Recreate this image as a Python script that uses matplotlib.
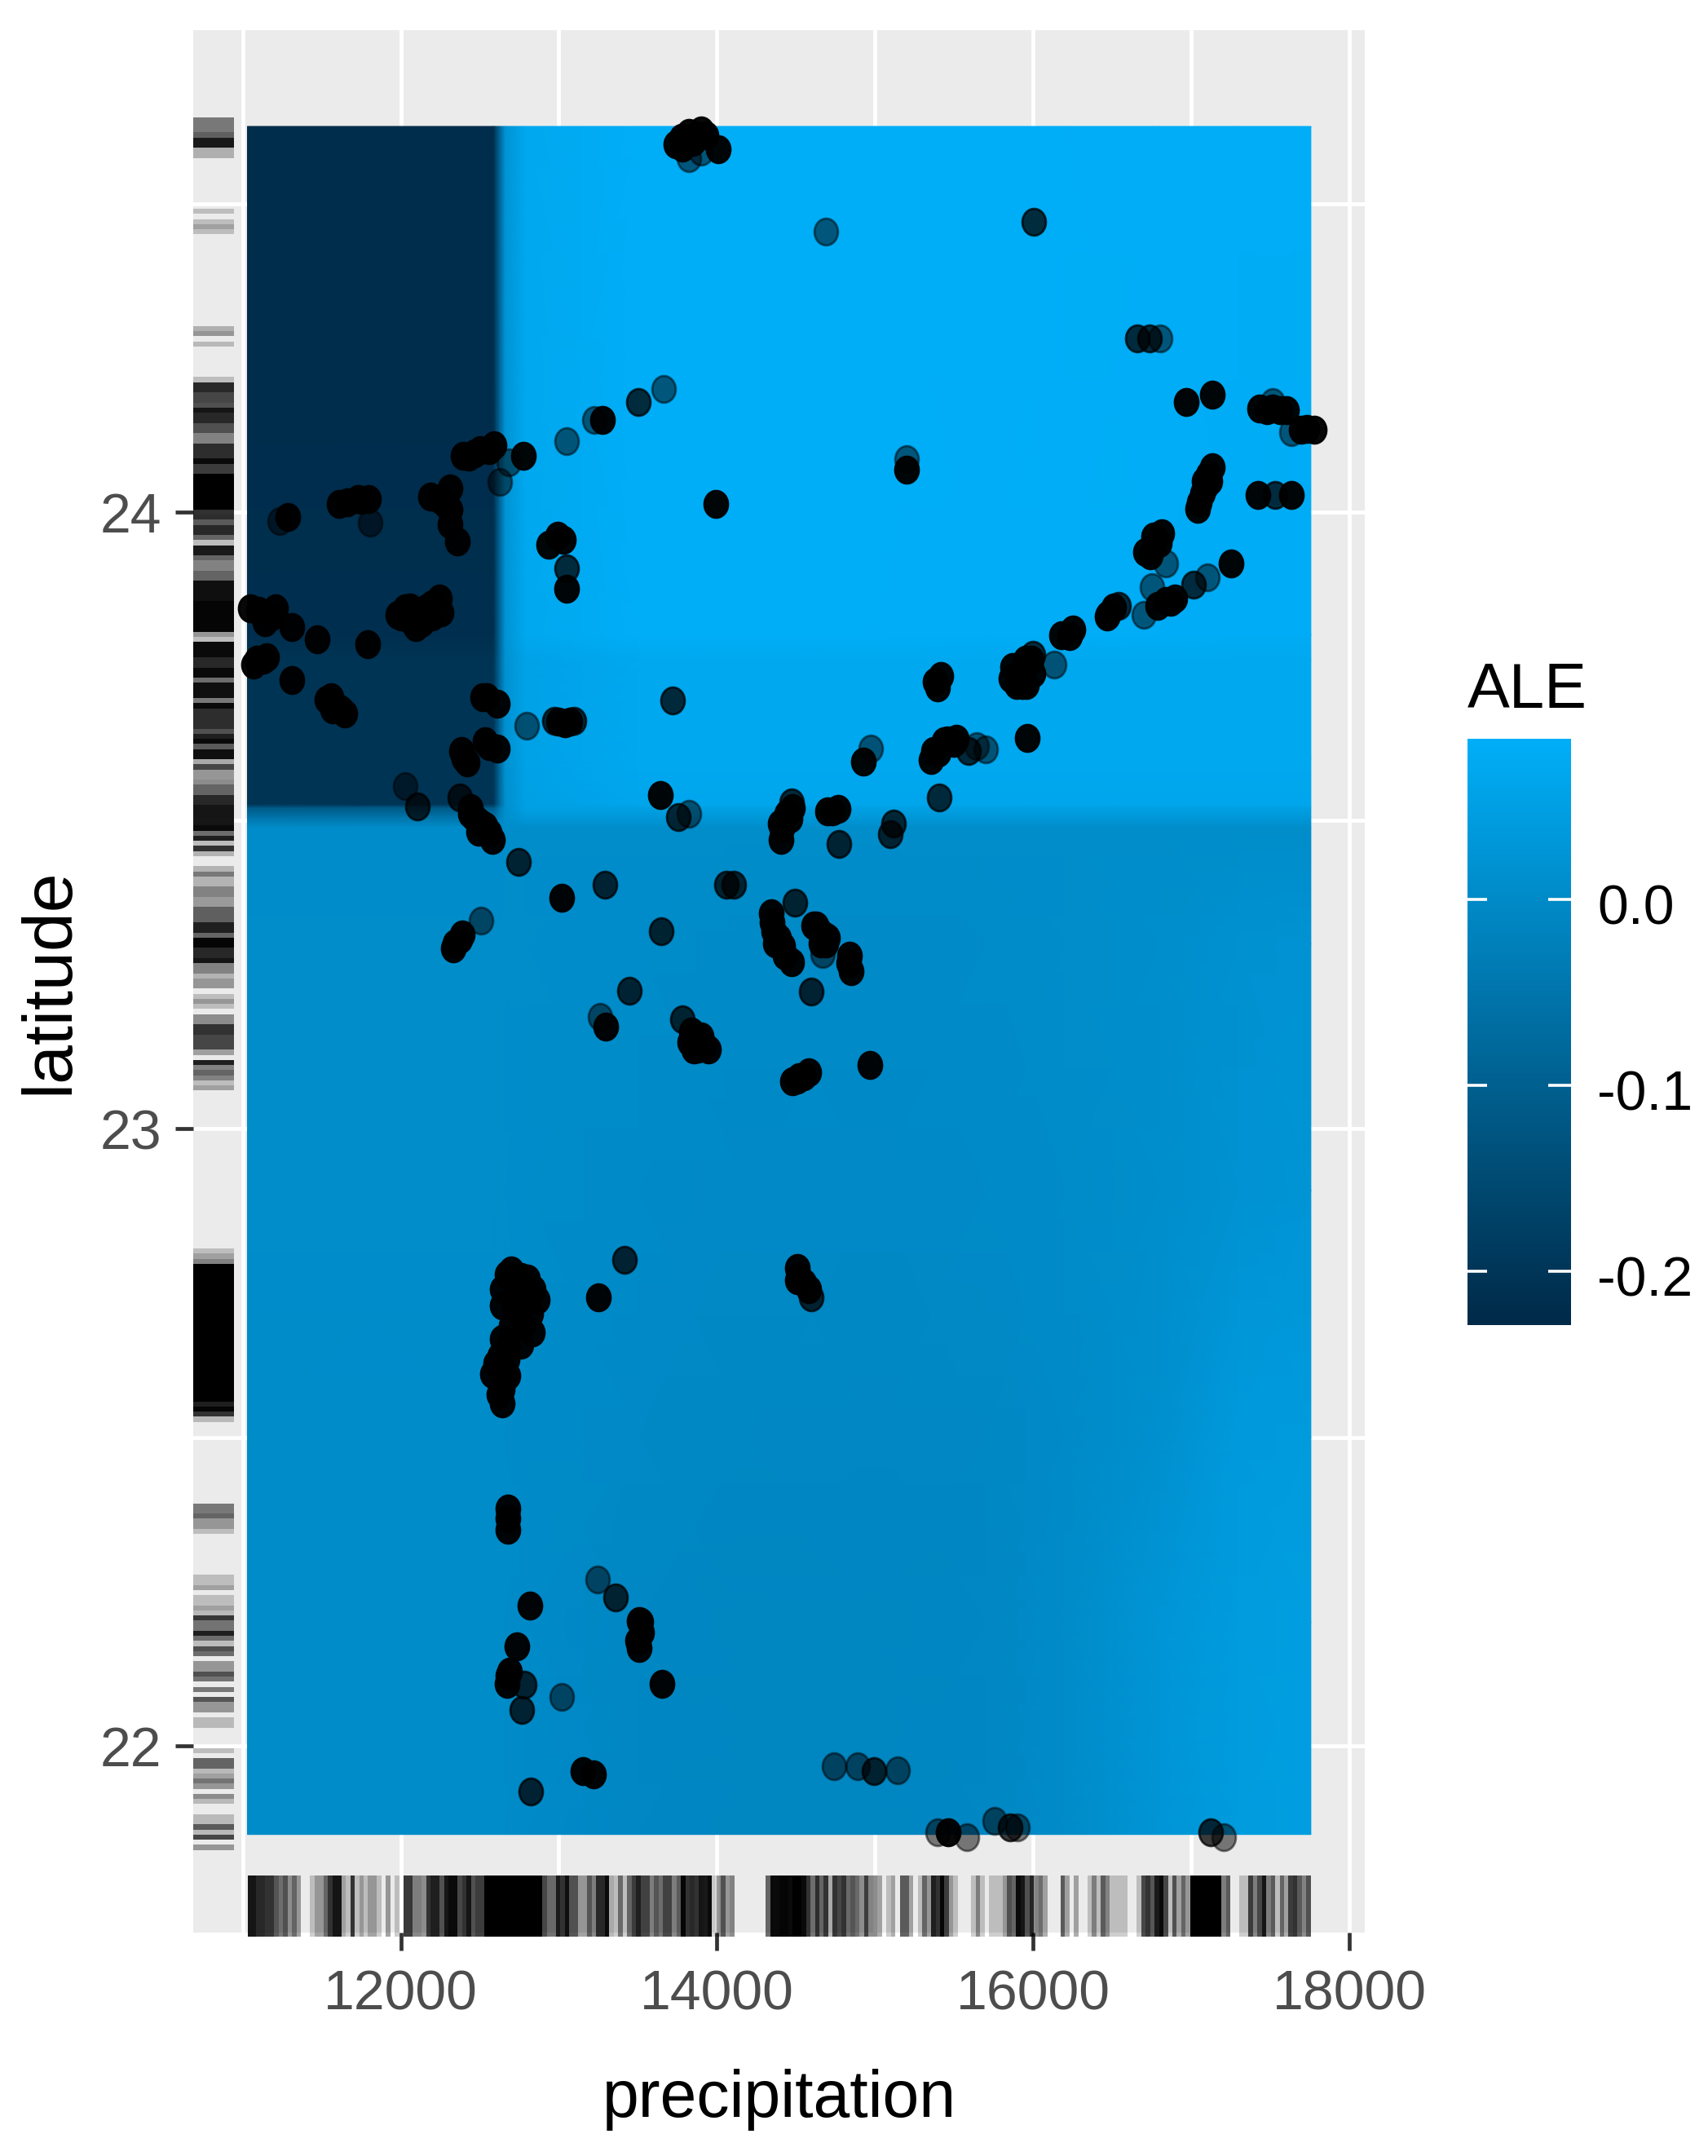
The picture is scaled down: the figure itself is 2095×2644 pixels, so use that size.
import numpy as np
import matplotlib
matplotlib.use("Agg")
import matplotlib.pyplot as plt
from matplotlib.colors import LinearSegmentedColormap
from matplotlib.path import Path
from matplotlib.transforms import Affine2D, ScaledTranslation

plt.rcParams['font.family'] = ['Liberation Sans', 'DejaVu Sans']

W, H = 2095, 2644

# ALE surface
x_grid = [11030, 12585, 12600, 12625, 12660, 12790, 13500, 14200, 15000, 15700, 16200, 16800, 17300, 17757]
lat_grid = [24.625, 23.80, 23.76, 23.60, 23.526, 23.520, 23.505, 23.488, 23.30, 22.90, 22.50, 22.20, 21.856]
ale = [
    [-.222, -.222, -.17, -.09, .02, .07, .084, .084, .084, .084, .084, .082, .082, .082],
    [-.218, -.218, -.17, -.09, .02, .07, .084, .084, .084, .082, .082, .082, .080, .080],
    [-.205, -.205, -.16, -.085, .015, .055, .070, .070, .070, .070, .070, .070, .070, .070],
    [-.205, -.205, -.16, -.085, .015, .055, .070, .070, .070, .070, .070, .070, .070, .070],
    [-.205, -.205, -.16, -.085, .010, .050, .065, .065, .065, .065, .065, .065, .065, .065],
    [-.115, -.115, -.09, -.04, .010, .050, .050, .050, .050, .050, .050, .050, .050, .050],
    [-.056, -.056, -.05, -.02, .010, .030, .030, .030, .030, .030, .030, .030, .030, .030],
    [.003, .003, .003, .003, .005, .005, .005, .005, .005, .005, .005, .005, .005, .005],
    [.005, .005, .005, .005, .005, .005, .003, .000, .000, .002, .005, .007, .015, .020],
    [.004, .004, .004, .004, .004, .003, .000, -.003, -.003, -.002, .002, .007, .018, .025],
    [.002, .002, .002, .002, .002, .001, -.003, -.007, -.008, -.007, .000, .012, .035, .040],
    [.002, .002, .002, .002, .002, .000, -.008, -.012, -.012, -.008, .002, .025, .040, .045],
    [.002, .002, .002, .002, .002, .000, -.008, -.012, -.012, -.008, .002, .025, .040, .045],
]

# observations, sorted by how dark they look after overplotting
precip_dense = [13776, 13822, 13902, 13741, 14006, 13868, 13276, 12774, 12590, 12464, 12395, 12314, 12187,
                12314, 12360, 11727, 11612, 11796, 11285, 11048, 11209, 11140, 11313, 11469, 11128, 11071,
                11313, 11791, 12026, 11980, 12095, 12245, 12256, 12164, 12095, 11531, 11589, 11646, 12544,
                12613, 13039, 12383, 12418, 12533, 12613, 12441, 12533, 13642, 12993, 12936, 13051, 13994,
                16966, 17132, 17434, 17513, 17605, 17697, 17776, 15198, 17132, 17092, 17053, 17421, 17632,
                16763, 16816, 16711, 16842, 16790, 16895, 17250, 16474, 16232, 15935, 15869, 16000, 15895,
                15414, 15395, 15961, 14927, 15369, 15435, 15514, 15356, 14461, 14409, 14764, 14698, 12582,
                12493, 13020, 12375, 12331, 13299, 13840, 13899, 13944, 13855, 14521, 14580, 14477, 14965,
                14343, 14358, 14417, 14625, 14684, 14832, 14847, 14403, 12671, 12804, 12641, 12863, 12775,
                12641, 12775, 12834, 12641, 12627, 12671, 12582, 12656, 12641, 12641, 13248, 14506, 14506,
                14580, 12679, 13508, 13522, 13508, 12817, 12734, 12679, 13655, 13153, 13218, 15465,
                12720, 12720, 12800, 12700, 12760, 12680, 12600, 12700, 12760, 12840, 12820, 12650, 12620,
                12680, 12660, 14350, 14370, 14390, 14430, 14470, 14650, 14660, 14700, 17110, 17070, 17040,
                17120, 17080, 12060, 12130, 12200, 12060, 12130, 12200, 12000, 15950, 15930, 15860, 15960,
                15990, 13870, 13900, 13830, 13920, 13880, 14510, 14550, 14520, 14550, 13800, 13850, 13780,
                13930, 16760, 16740, 16800, 13030, 12560, 12430, 12500, 12250, 12290, 12310, 11660, 11750,
                11570, 11620, 11560, 11100, 11180, 11090, 11150, 12520, 13000, 13070, 12400, 12560, 12480,
                12510, 12560, 12440, 12460, 15380, 15400, 15460, 15500, 14400, 14440, 14480, 14730, 16870,
                17480, 17560, 17730, 12680, 12680, 13520, 13500, 12690, 12670, 16180, 16250, 16470, 16510,
                12340, 12390, 14610, 14690, 14840]
lat_dense = [24.607, 24.615, 24.618, 24.596, 24.588, 24.610, 24.149, 24.091, 24.108, 24.095, 24.091, 24.038, 24.025,
             24.004, 23.952, 24.021, 24.013, 24.021, 23.992, 23.844, 23.844, 23.821, 23.814, 23.793, 23.761, 23.753,
             23.727, 23.785, 23.844, 23.833, 23.837, 23.859, 23.837, 23.844, 23.814, 23.696, 23.685, 23.673, 23.700,
             23.689, 23.658, 23.613, 23.594, 23.628, 23.616, 23.510, 23.491, 23.541, 23.962, 23.947, 23.875, 24.013,
             24.178, 24.190, 24.167, 24.167, 24.165, 24.133, 24.133, 24.068, 24.072, 24.042, 24.015, 24.028, 24.028,
             23.943, 23.966, 23.935, 23.856, 23.848, 23.859, 23.916, 23.833, 23.799, 23.746, 23.749, 23.738, 23.719,
             23.734, 23.715, 23.633, 23.595, 23.613, 23.628, 23.632, 23.598, 23.503, 23.487, 23.518, 23.514, 23.468,
             23.482, 23.375, 23.307, 23.293, 23.166, 23.158, 23.138, 23.128, 23.128, 23.084, 23.091, 23.077, 23.104,
             23.350, 23.320, 23.296, 23.330, 23.313, 23.269, 23.256, 23.468, 22.764, 22.757, 22.740, 22.723, 22.720,
             22.713, 22.680, 22.670, 22.660, 22.632, 22.626, 22.602, 22.599, 22.555, 22.578, 22.727, 22.774, 22.754,
             22.740, 22.368, 22.202, 22.184, 22.159, 22.227, 22.161, 22.113, 22.100, 21.959, 21.953, 21.860,
             22.750, 22.710, 22.720, 22.680, 22.650, 22.650, 22.620, 22.770, 22.760, 22.740, 22.700, 22.590, 22.570,
             22.600, 22.640, 23.335, 23.300, 23.310, 23.280, 23.270, 23.320, 23.300, 23.310, 24.060, 24.030, 24.005,
             24.050, 24.050, 23.845, 23.840, 23.850, 23.825, 23.820, 23.830, 23.830, 23.760, 23.720, 23.730, 23.720,
             23.760, 23.150, 23.150, 23.140, 23.135, 23.130, 23.080, 23.085, 22.760, 22.750, 24.600, 24.600, 24.590,
             24.610, 23.960, 23.930, 23.950, 23.955, 24.100, 24.090, 24.100, 24.020, 24.010, 23.980, 24.015, 24.020,
             23.680, 23.680, 23.700, 23.840, 23.830, 23.760, 23.765, 23.700, 23.660, 23.660, 23.600, 23.620, 23.500,
             23.495, 23.480, 23.520, 23.505, 23.725, 23.610, 23.630, 23.625, 23.495, 23.510, 23.520, 23.515, 23.855,
             24.165, 24.165, 24.135, 22.350, 22.385, 22.200, 22.170, 22.120, 22.100, 23.800, 23.810, 23.830, 23.845,
             23.300, 23.315, 23.330, 23.300, 23.280]

precip_mid = [13504, 12970, 13097, 13718, 12107, 12372, 13753, 13051, 16006, 16658, 16737, 17013, 16540,
              16000, 14474, 15119, 15593, 15408, 12745, 13293, 14062, 14107, 13648, 13447, 13781, 14595,
              14491, 14773, 15098, 13417, 14595, 13356, 12780, 12766, 12822, 14995, 15856, 17123, 17530]
lat_mid = [24.178, 23.662, 23.662, 23.694, 23.522, 23.537, 23.506, 23.909, 24.470, 24.281, 24.281, 23.882, 23.848,
           23.768, 23.529, 23.495, 23.613, 23.537, 23.433, 23.396, 23.396, 23.396, 23.320, 23.224, 23.178, 23.222,
           23.367, 23.462, 23.478, 22.788, 22.727, 22.240, 22.099, 22.058, 21.926, 21.959, 21.868, 21.860, 24.028]

precip_light = [13822, 13902, 13661, 13223, 13051, 12682, 12625, 11808, 11232, 12797, 13822, 12026, 14690,
                16803, 17513, 17632, 15198, 16842, 16750, 16698, 17105, 16132, 14974, 15645, 15700,
                12508, 13263, 14669, 13245, 13020, 14742, 14889, 15143, 15396, 15580, 15755, 15902, 17206]
lat_light = [24.573, 24.584, 24.199, 24.149, 24.115, 24.081, 24.049, 23.982, 23.985, 23.653, 23.510, 23.556, 24.454,
             24.281, 24.178, 24.129, 24.086, 23.916, 23.878, 23.833, 23.894, 23.753, 23.617, 23.620, 23.615,
             23.337, 23.182, 23.283, 22.269, 22.079, 21.967, 21.967, 21.960, 21.860, 21.852, 21.878, 21.868, 21.852]

# rug darkness per strip of the margin, 255 means nothing drawn there
rug_x_gray = ([20]*2 + [40]*2 + [50]*2 + [85, 110, 80, 140, 100, 150] + [255]*2 + [190, 150, 150, 100, 50, 20, 20, 160,
              190, 50, 190, 150, 190, 150, 150, 190, 255, 150, 255, 190, 255, 55, 55, 125, 125, 140, 50, 30, 30, 80,
              20, 10, 10, 70, 50, 20, 80, 60, 60] + [0]*13 + [70, 105, 105, 25, 50, 15, 80, 80, 150, 150, 85, 125, 40,
              40, 10, 170, 190, 105, 190, 100, 60, 30, 65, 65, 125, 85, 110, 65, 65, 125, 90, 5, 50, 40, 50, 20, 25,
              10, 200, 140, 80, 150, 130] + [255]*7 + [100, 10, 10, 5, 5, 10, 0, 0, 10, 50, 110, 45, 100, 50, 170, 50,
              70, 50, 105, 85, 105, 140, 60, 130, 130, 160, 255, 190, 160, 255, 90, 90, 160, 255, 190, 100, 150, 30,
              50, 5, 60, 150, 190] + [255]*3 + [190, 125, 190, 255] + [190]*3 + [150, 80, 100, 10, 20, 80, 35, 130, 110,
              160] + [255]*3 + [90, 160, 255, 160] + [255]*2 + [190, 125, 190, 90, 130] + [190]*4 + [255]*2 + [190, 70,
              50, 85, 25, 10, 70, 190, 80, 160, 100, 150] + [0]*7 + [125, 90] + [255]*2 + [190, 190, 60, 125, 70, 20,
              125, 90, 190, 100, 160, 60, 50, 90, 130, 80])

rug_lat_gray = ([120]*3 + [95, 25, 25, 175, 175] + [255]*10 + [190, 255, 190, 160, 190] + [255]*18 + [175, 150, 255, 185]
                + [255]*6 + [190, 40, 40, 70, 70, 80, 20, 40, 40, 80, 80, 130, 130, 45, 45, 45, 10, 60, 60] + [0]*7
                + [45, 45, 90, 40, 40, 100, 190, 25, 25, 100, 130, 130, 100, 100] + [15]*4 + [5]*6 + [150, 190]
                + [10]*3 + [40, 40, 10, 10, 110, 15, 15, 15, 120, 10] + [45]*4 + [80, 30, 10, 90, 15, 15, 170, 70, 150,
                150, 140, 100, 100, 40, 40] + [20]*4 + [10, 110, 30, 190, 50, 180, 255, 255, 180, 120, 180, 180, 130,
                130, 155, 155, 95, 95, 95, 30, 30, 100, 5, 5, 40, 40, 20, 130, 130, 180, 150, 150, 255, 190, 150, 190,
                255, 140, 140, 50, 50, 70, 70, 70, 160, 255, 30, 130, 100, 130, 190, 160] + [255]*31 + [190, 160, 130]
                + [0]*27 + [30, 5, 50, 185] + [255]*16 + [120, 120, 100, 150, 150, 190] + [255]*8 + [190, 190, 160, 255,
                190, 190, 160, 185, 55, 115, 115, 30, 110, 190, 80, 110, 255, 150, 150, 80, 115, 255, 120, 255, 85, 150,
                150, 255, 185, 185] + [255]*4 + [190, 255, 100, 100, 185, 160, 115, 150, 255, 140, 185, 255, 255, 185,
                185, 90, 185, 70, 255, 150])

x_ticks = [12000, 14000, 16000, 18000]
x_minor = [11000, 13000, 15000, 17000]
lat_ticks = [22, 23, 24]
lat_minor = [22.5, 23.5, 24.5]
legend_ticks = [-0.2, -0.1, 0.0]
legend_labels = ['-0.2', '-0.1', '0.0']

x_range = (10687, 18098)
lat_range = (21.697, 24.781)
ale_range = (-0.229, 0.0864)
rug_x_span = (11030, 17757)
rug_lat_span = (24.640, 21.831)

ale_cmap = LinearSegmentedColormap.from_list('ale', ['#002A48', '#00AFF8'])

fig = plt.figure(figsize=(W / 100, H / 100), dpi=100, facecolor='white')
ax = fig.add_axes([237 / W, (H - 2370) / H, 1437 / W, 2333 / H], facecolor='#EBEBEB')
for s in ax.spines.values():
    s.set_visible(False)

ax.pcolormesh(x_grid, lat_grid, np.array(ale), cmap=ale_cmap, vmin=ale_range[0], vmax=ale_range[1],
              shading='gouraud', zorder=2)

# rugs, one bar per strip
edges = np.linspace(rug_x_span[0], rug_x_span[1], len(rug_x_gray) + 1)
for i, g in enumerate(rug_x_gray):
    if g < 255:
        ax.bar(edges[i], 0.032, width=edges[i + 1] - edges[i], bottom=-0.002, align='edge', color='black',
               alpha=(235 - g) / 235, lw=0, transform=ax.get_xaxis_transform(), clip_on=False, zorder=3)
edges = np.linspace(rug_lat_span[0], rug_lat_span[1], len(rug_lat_gray) + 1)
for i, g in enumerate(rug_lat_gray):
    if g < 255:
        ax.barh(edges[i], 0.0348, height=edges[i + 1] - edges[i], align='edge', color='black',
                alpha=(235 - g) / 235, lw=0, transform=ax.get_yaxis_transform(), zorder=3)

# the source picture is stretched, so the dots are tall ellipses
dot = Path.unit_circle().transformed(Affine2D().scale(0.88, 1.0))
ax.scatter(precip_light, lat_light, s=560, marker=dot, c='black', alpha=0.5, linewidths=2, edgecolors='black', zorder=4)
ax.scatter(precip_mid, lat_mid, s=560, marker=dot, c='black', alpha=0.75, linewidths=2, edgecolors='black', zorder=5)
ax.scatter(precip_dense, lat_dense, s=560, marker=dot, c='black', alpha=0.97, linewidths=2, edgecolors='black', zorder=6)

ax.set_xlim(*x_range)
ax.set_ylim(*lat_range)
ax.set_xticks(x_ticks)
ax.set_yticks(lat_ticks)
ax.set_xticks(x_minor, minor=True)
ax.set_yticks(lat_minor, minor=True)
ax.grid(True, which='both', color='white', lw=3.4, zorder=1)
ax.set_axisbelow(True)
ax.tick_params(which='minor', length=0)
ax.tick_params(which='major', length=16, width=3.4, color='#333333', labelcolor='#4D4D4D', labelsize=49)
ax.tick_params(axis='x', pad=16)
ax.tick_params(axis='y', pad=12)

ax.set_xlabel('precipitation', fontsize=58, va='center')
ax.xaxis.set_label_coords(0.5, -0.088)
ax.set_ylabel('latitude', fontsize=62, va='center')
ax.yaxis.set_label_coords(-0.122, 0.5)

# legend
cax = fig.add_axes([1800 / W, (H - 1625) / H, 127 / W, 719 / H])
levels = np.linspace(ale_range[0], ale_range[1], 256).reshape(-1, 1)
cax.imshow(levels, cmap=ale_cmap, origin='lower', aspect='auto', extent=[0, 1, ale_range[0], ale_range[1]])
for s in cax.spines.values():
    s.set_visible(False)
cax.hlines(legend_ticks, 0, 0.19, color='white', lw=2.6)
cax.hlines(legend_ticks, 0.78, 1, color='white', lw=2.6)
cax.set_xticks([])
cax.yaxis.tick_right()
cax.set_yticks(legend_ticks)
cax.set_yticklabels(legend_labels)
cax.tick_params(axis='y', length=0, pad=23, labelsize=49, labelcolor='black')
shift = ScaledTranslation(0, -6 / 100, fig.dpi_scale_trans)
for label in cax.get_yticklabels():
    label.set_transform(label.get_transform() + shift)
fig.text(1800 / W, 1 - 868 / H, 'ALE', fontsize=56, va='baseline', ha='left', color='black')

fig.savefig('out.png', dpi=100)
